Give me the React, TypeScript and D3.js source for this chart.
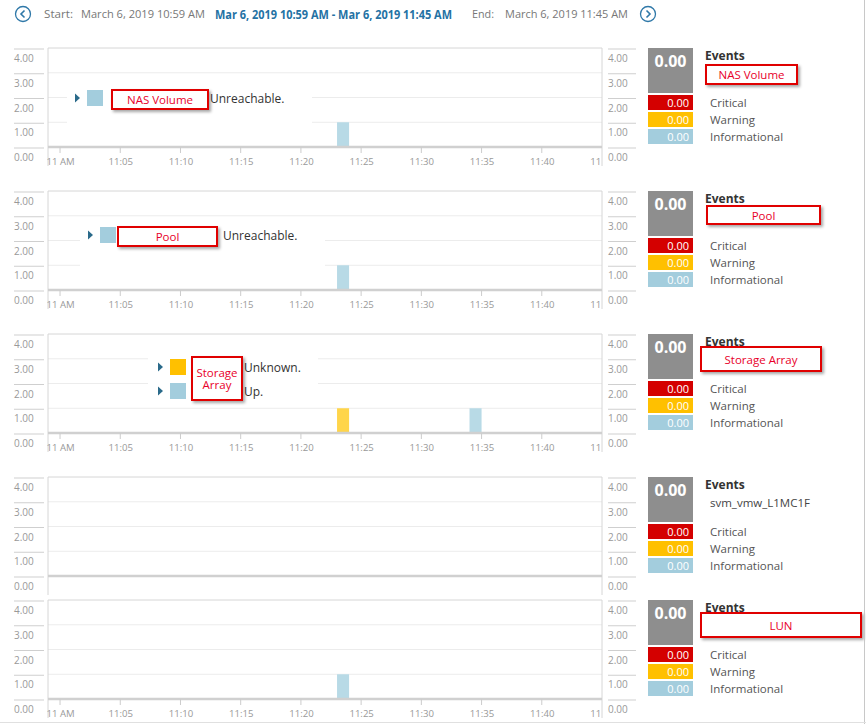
import * as d3 from "d3";

// time range of the view
const rangeStart = "10:59";
const rangeEnd = "11:45";

// panel titles (the red callouts / right side label)
const panelNames = ["NAS Volume", "Pool", "Storage Array", "svm_vmw_L1MC1F", "LUN"];

// event bars per panel: minute bucket, count, severity
const nasVolumeBars = [{ time: "11:23", value: 1, level: "info" }];
const poolBars = [{ time: "11:23", value: 1, level: "info" }];
const storageArrayBars = [
  { time: "11:23", value: 1, level: "warning" },
  { time: "11:34", value: 1, level: "info" },
];
const svmBars: { time: string; value: number; level: string }[] = [];
const lunBars = [{ time: "11:23", value: 1, level: "info" }];

// legend entries inside the plots
const nasVolumeLegend = [{ label: "Unreachable.", level: "info" }];
const poolLegend = [{ label: "Unreachable.", level: "info" }];
const storageArrayLegend = [
  { label: "Unknown.", level: "warning" },
  { label: "Up.", level: "info" },
];

// event summary (same for all panels)
const eventTotal = 0;
const eventLevels = ["critical", "warning", "info"];
const eventLabels = ["Critical", "Warning", "Informational"];
const eventCounts = [0, 0, 0];

const yTicks = [0, 1, 2, 3, 4];

const barColor: Record<string, string> = { info: "#b8dae6", warning: "#ffd54a" };
const swatchColor: Record<string, string> = { info: "#a3cddd", warning: "#ffc000", critical: "#d40000" };

const parse = d3.timeParse("%Y-%m-%d %H:%M");
const t = (s: string) => parse("2019-03-06 " + s) as Date;
const fullFmt = d3.timeFormat("%B %-d, %Y %-I:%M %p");
const shortFmt = d3.timeFormat("%b %-d, %Y %-I:%M %p");

const FONT = "'Open Sans', sans-serif";
const PLOT_L = 48;
const PLOT_R = 602;
const PLOT_H = 99;

const x = d3.scaleTime().domain([t(rangeStart), t(rangeEnd)]).range([PLOT_L, PLOT_R]);
const xTicks = x.ticks(d3.timeMinute.every(5)!);
const fmtTick = (d: Date) =>
  d.getMinutes() === 0 ? d3.timeFormat("%-I %p")(d) : d3.timeFormat("%-I:%M")(d);

// layout per panel (not data)
const panels = [
  {
    top: 48, bars: nasVolumeBars, legend: nasVolumeLegend, xLabels: true,
    lg: { tri: 75, box: [67, 78, 245, 48], callout: [112, 90, 96, 19], single: true, text: 210 },
    side: { callout: [706, 17, 91, 19] },
  },
  {
    top: 191, bars: poolBars, legend: poolLegend, xLabels: true,
    lg: { tri: 88, box: [80, 221, 245, 48], callout: [118, 227, 99, 19], single: true, text: 223 },
    side: { callout: [707, 15, 113, 18] },
  },
  {
    top: 334, bars: storageArrayBars, legend: storageArrayLegend, xLabels: true,
    lg: { tri: 158, box: [148, 351, 170, 50], callout: [192, 357, 50, 43], single: false, text: 244 },
    side: { callout: [701, 13, 120, 24] },
  },
  { top: 477, bars: svmBars, legend: [], xLabels: false, lg: null, side: null },
  { top: 600, bars: lunBars, legend: [], xLabels: true, lg: null, side: { callout: [701, 13, 160, 24] } },
];

function Callout({ r, lines }: { r: number[]; lines: string[] }) {
  const [cx, cy, w, h] = r;
  return (
    <g>
      <rect x={cx} y={cy} width={w} height={h} fill="#fff" stroke="#e00000" strokeWidth={2} filter="url(#shadow)" />
      {lines.map((l, i) => (
        <text
          key={i}
          x={cx + w / 2}
          y={cy + h / 2 + (i - (lines.length - 1) / 2) * 12}
          textAnchor="middle"
          dominantBaseline="central"
          fontSize={11.5}
          fill="#e8002a"
          fontFamily={FONT}
        >
          {l}
        </text>
      ))}
    </g>
  );
}

function Panel({ p, idx }: { p: (typeof panels)[number]; idx: number }) {
  const top = p.top;
  const y = d3.scaleLinear().domain([0, 4]).range([top + PLOT_H, top]);
  const clipId = `clip${idx}`;
  return (
    <g>
      <clipPath id={clipId}>
        <rect x={PLOT_L - 1} y={top} width={PLOT_R - PLOT_L} height={PLOT_H + 30} />
      </clipPath>
      {/* gridlines */}
      {yTicks.slice(1, 4).map((v) => (
        <line key={v} x1={PLOT_L} x2={PLOT_R} y1={y(v)} y2={y(v)} stroke="#ececec" />
      ))}
      {/* y axes left/right */}
      {yTicks.map((v) => (
        <g key={v}>
          <line x1={14} x2={44} y1={y(v) + 1} y2={y(v) + 1} stroke="#cfcfcf" />
          <text x={14} y={y(v) + 14} fontSize={10} fill="#999" fontFamily={FONT}>
            {d3.format(".2f")(v)}
          </text>
          <line x1={608} x2={636} y1={y(v) + 1} y2={y(v) + 1} stroke="#cfcfcf" />
          <text x={608} y={y(v) + 14} fontSize={10} fill="#999" fontFamily={FONT}>
            {d3.format(".2f")(v)}
          </text>
        </g>
      ))}
      {/* bars */}
      {p.bars.map((b, i) => {
        const x0 = x(t(b.time));
        const x1 = x(d3.timeMinute.offset(t(b.time), 1));
        return (
          <rect key={i} x={x0} y={y(b.value)} width={x1 - x0} height={y(0) - y(b.value)} fill={barColor[b.level]} />
        );
      })}
      {/* frame */}
      <line x1={PLOT_L} x2={PLOT_R} y1={top} y2={top} stroke="#d6d6d6" />
      <line x1={PLOT_L} x2={PLOT_L} y1={top} y2={top + PLOT_H + 19} stroke="#d6d6d6" />
      <line x1={PLOT_R} x2={PLOT_R} y1={top} y2={top + PLOT_H + 19} stroke="#d6d6d6" />
      <line x1={PLOT_L} x2={PLOT_R} y1={y(0)} y2={y(0)} stroke="#d0d0d0" strokeWidth={2.5} />
      {/* x axis */}
      {p.xLabels && (
        <g clipPath={`url(#${clipId})`}>
          {xTicks.map((d, i) => (
            <g key={i}>
              <line x1={x(d)} x2={x(d)} y1={y(0)} y2={y(0) + 6} stroke="#ccc" />
              <text x={x(d) + 0.5} y={y(0) + 18} textAnchor="middle" fontSize={9.6} fill="#999" fontFamily={FONT}>
                {fmtTick(d)}
              </text>
            </g>
          ))}
        </g>
      )}
      {/* in-plot legend */}
      {p.lg && (
        <g>
          <rect x={p.lg.box[0]} y={p.lg.box[1]} width={p.lg.box[2]} height={p.lg.box[3]} fill="#fff" />
          {p.legend.map((l, i) => {
            const cy = (p.lg!.single ? p.lg!.callout[1] + 8 : p.lg!.callout[1] + 10) + i * 24;
            const tx = p.lg!.tri;
            return (
              <g key={i}>
                <path d={`M${tx},${cy - 4.5}L${tx + 5},${cy}L${tx},${cy + 4.5}Z`} fill="#2a6a8a" />
                <rect x={tx + 12} y={cy - 8} width={16} height={16} fill={swatchColor[l.level]} />
                <text x={p.lg!.text} y={cy} dominantBaseline="central" fontSize={12} fill="#333" fontFamily={FONT}>
                  {l.label}
                </text>
              </g>
            );
          })}
          <Callout r={p.lg.callout} lines={p.lg.single ? [panelNames[idx]] : panelNames[idx].split(" ")} />
        </g>
      )}
      {/* side summary */}
      <g>
        <rect x={648} y={top} width={45} height={45} fill="#8e8e8e" />
        <text x={670.5} y={top + 19} textAnchor="middle" fontSize={16} fontWeight="bold" fill="#fff" fontFamily={FONT}>
          {d3.format(".2f")(eventTotal)}
        </text>
        {eventLevels.map((lv, i) => {
          const by = top + 47 + i * 17;
          return (
            <g key={lv}>
              <rect x={648} y={by} width={45} height={15} fill={swatchColor[lv]} />
              <text x={689} y={by + 7.5} textAnchor="end" dominantBaseline="central" fontSize={11} fill="#fff" fontFamily={FONT}>
                {d3.format(".2f")(eventCounts[i])}
              </text>
              <text x={710} y={by + 7.5} dominantBaseline="central" fontSize={11.5} fill="#555" fontFamily={FONT}>
                {eventLabels[i]}
              </text>
            </g>
          );
        })}
        <text x={705} y={top + 12} fontSize={12} fontWeight="bold" fill="#333" fontFamily={FONT}>
          Events
        </text>
        {p.side ? (
          <Callout r={[p.side.callout[0], top + p.side.callout[1], p.side.callout[2], p.side.callout[3]]} lines={[panelNames[idx]]} />
        ) : (
          <text x={710} y={top + 30} fontSize={11.5} fill="#444" fontFamily={FONT}>
            {panelNames[idx]}
          </text>
        )}
      </g>
    </g>
  );
}

function Chevron({ cx, dir }: { cx: number; dir: number }) {
  return (
    <g>
      <circle cx={cx} cy={14} r={7.5} fill="#fff" stroke="#2f78a8" strokeWidth={1.3} />
      <path
        d={`M${cx + 1.5 * dir},${10.5}L${cx - 2 * dir},${14}L${cx + 1.5 * dir},${17.5}`}
        fill="none"
        stroke="#2f78a8"
        strokeWidth={1.6}
      />
    </g>
  );
}

export default function App() {
  const start = t(rangeStart);
  const end = t(rangeEnd);
  return (
    <svg width={866} height={724} style={{ position: "absolute", left: 0, top: 0, background: "#fff" }}>
      <defs>
        <filter id="shadow" x="-10%" y="-20%" width="130%" height="160%">
          <feDropShadow dx={2} dy={2} stdDeviation={1.5} floodColor="#000" floodOpacity={0.35} />
        </filter>
      </defs>
      <Chevron cx={23} dir={1} />
      <text x={44} y={18} fontSize={11} fill="#777" fontFamily={FONT} textLength={29} lengthAdjust="spacingAndGlyphs">Start:</text>
      <text x={81} y={18} fontSize={11} fill="#777" fontFamily={FONT} textLength={124} lengthAdjust="spacingAndGlyphs">
        {fullFmt(start)}
      </text>
      <text x={215} y={19} fontSize={11.5} fontWeight="bold" fill="#2472a4" fontFamily={FONT} textLength={237} lengthAdjust="spacingAndGlyphs">
        {`${shortFmt(start)} - ${shortFmt(end)}`}
      </text>
      <text x={472} y={18} fontSize={11} fill="#777" fontFamily={FONT} textLength={22} lengthAdjust="spacingAndGlyphs">End:</text>
      <text x={505} y={18} fontSize={11} fill="#777" fontFamily={FONT} textLength={123} lengthAdjust="spacingAndGlyphs">
        {fullFmt(end)}
      </text>
      <Chevron cx={648} dir={-1} />
      {panels.map((p, i) => (
        <Panel key={i} p={p} idx={i} />
      ))}
      <line x1={864.5} x2={864.5} y1={0} y2={724} stroke="#c8c8c8" />
      <line x1={0} x2={866} y1={722.5} y2={722.5} stroke="#e0e0e0" />
    </svg>
  );
}
